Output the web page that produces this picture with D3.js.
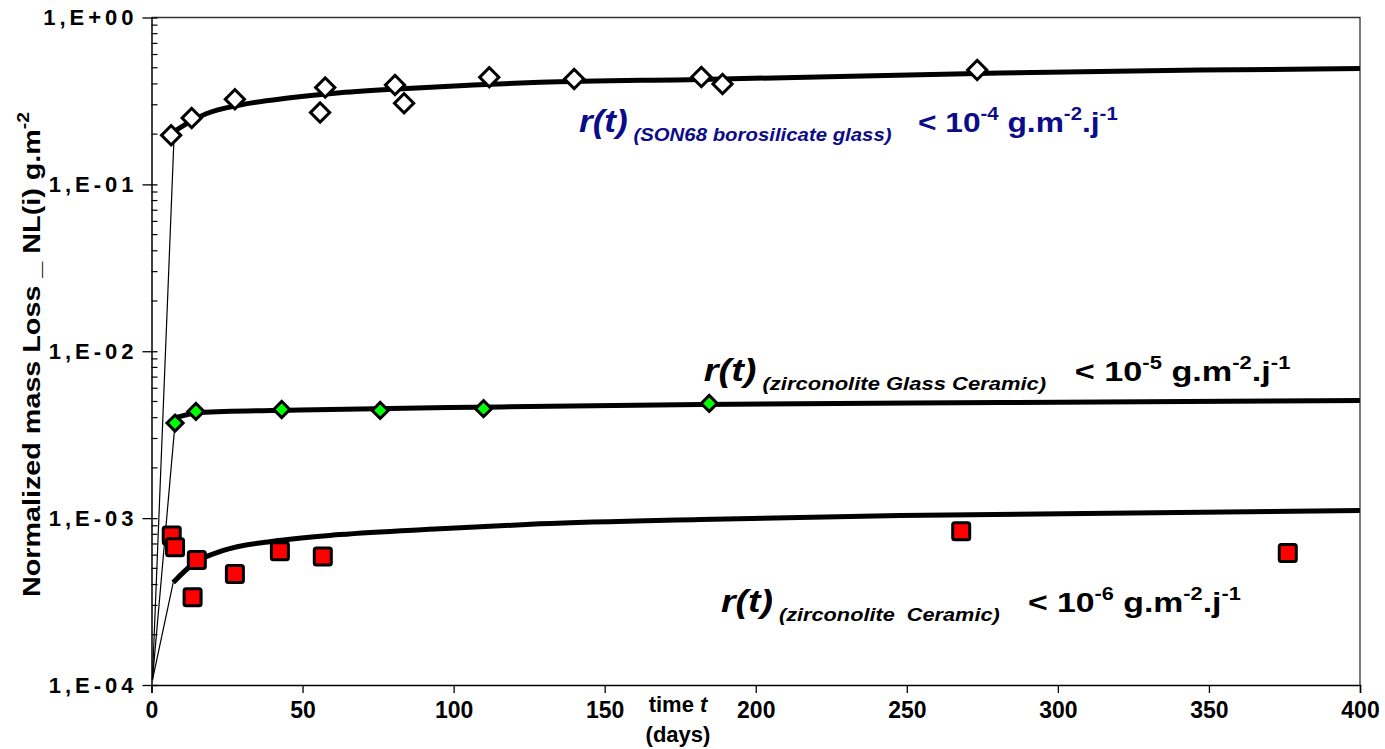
<!DOCTYPE html>
<html>
<head>
<meta charset="utf-8">
<script src="https://cdn.jsdelivr.net/npm/d3@7"></script>
<style>
  body { margin: 0; background: #fff; }
  svg { font-family: Arial, "Liberation Sans", sans-serif; }
</style>
</head>
<body>
<svg width="1385" height="749"></svg>
<script>
// ---- data ----
const yTicks = [1e-4, 1e-3, 1e-2, 1e-1, 1];
const yTickLabels = ["1,E-04", "1,E-03", "1,E-02", "1,E-01", "1,E+00"];
const xTicks = [0, 50, 100, 150, 200, 250, 300, 350, 400];

// SON68 borosilicate glass (open diamonds)
const son68Days = [6.5, 13.3, 27.6, 55.8, 57.5, 80.6, 83.6, 111.8, 139.9, 182, 189, 273.3];
const son68Loss = [0.197, 0.25, 0.324, 0.27, 0.381, 0.394, 0.306, 0.438, 0.428, 0.44, 0.399, 0.484];
const son68FitDays = [7.2, 12.7, 18.3, 29.3, 45.9, 62.4, 84.5, 106.6, 128.6, 181.6, 281, 347, 400];
const son68FitLoss = [0.206, 0.237, 0.266, 0.299, 0.330, 0.354, 0.376, 0.394, 0.409, 0.425, 0.465, 0.484, 0.494];

// zirconolite glass ceramic (green diamonds)
const gcDays = [7.8, 14.7, 43.1, 75.7, 109.9, 184.6];
const gcLoss = [3.71e-3, 4.36e-3, 4.48e-3, 4.42e-3, 4.53e-3, 4.87e-3];
const gcFitDays = [8, 16, 49.2, 115.4, 181.6, 281, 400];
const gcFitLoss = [4.0e-3, 4.30e-3, 4.45e-3, 4.64e-3, 4.80e-3, 4.93e-3, 5.07e-3];

// zirconolite ceramic (red squares)
const cerDays = [6.7, 7.8, 15.0, 13.6, 27.6, 42.5, 56.7, 268, 376.1];
const cerLoss = [7.87e-4, 6.69e-4, 5.62e-4, 3.36e-4, 4.63e-4, 6.33e-4, 5.89e-4, 8.34e-4, 6.19e-4];
const cerFitDays = [7.2, 13.8, 23.8, 40.3, 62.4, 95.5, 128.6, 181.6, 247.8, 400];
const cerFitLoss = [4.12e-4, 5.32e-4, 6.40e-4, 7.27e-4, 7.97e-4, 8.63e-4, 9.24e-4, 9.82e-4, 1.036e-3, 1.11e-3];

// thin start-up segments from near the origin
const startDay = 0.3, startLoss = 1.07e-4;

const svg = d3.select("svg");
const margin = { top: 17.5, right: 25, bottom: 64, left: 151.5 };
const width = 1385 - margin.left - margin.right;
const height = 749 - margin.top - margin.bottom;

const g = svg.append("g").attr("transform", `translate(${margin.left},${margin.top})`);

const x = d3.scaleLinear().domain([0, 400]).range([0, width]);
const y = d3.scaleLog().domain([1e-4, 1]).range([height, 0]);

// frame (top and right)
g.append("path")
  .attr("d", `M0,0H${width}V${height}`)
  .attr("fill", "none").attr("stroke", "#333").attr("stroke-width", 1.3);

// x axis
const gX = g.append("g")
  .attr("transform", `translate(0,${height})`)
  .call(d3.axisBottom(x).tickValues(xTicks).tickSize(8).tickFormat(d3.format("d")));
gX.select(".domain").attr("stroke-width", 1.5);
gX.selectAll(".tick line").attr("stroke-width", 1.3);
gX.selectAll(".tick text")
  .attr("font-size", 23).attr("font-weight", "bold").attr("dy", "0.95em").attr("fill", "#000");

// y axis: major ticks across the axis, minor ticks inside
const gY = g.append("g").call(d3.axisLeft(y).tickValues(yTicks).tickSize(0).tickFormat((d, i) => yTickLabels[i]));
gY.select(".domain").attr("stroke-width", 1.5);
gY.selectAll(".tick text")
  .attr("x", -14).attr("font-size", 22).attr("font-weight", "bold")
  .attr("letter-spacing", "4px").attr("fill", "#000");
gY.selectAll(".tick").append("line")
  .attr("x1", -9).attr("x2", 6).attr("stroke", "#000").attr("stroke-width", 1.3);

const minor = [];
for (let e = -4; e < 0; e++) for (let k = 2; k <= 9; k++) minor.push(k * Math.pow(10, e));
g.append("g").selectAll("line").data(minor).join("line")
  .attr("x1", 0).attr("x2", 6)
  .attr("y1", d => y(d)).attr("y2", d => y(d))
  .attr("stroke", "#000").attr("stroke-width", 1.2);

// lines
const zip = (a, b) => a.map((d, i) => [d, b[i]]);
const line = d3.line().x(d => x(d[0])).y(d => y(d[1]));
const smooth = d3.line().x(d => x(d[0])).y(d => y(d[1])).curve(d3.curveMonotoneX);

const thin = [
  [[startDay, startLoss], [7.5, 0.2]],
  [[startDay, startLoss], [gcDays[0], gcLoss[0]]],
  [[startDay, startLoss], [cerFitDays[0], cerFitLoss[0]]]
];
g.append("g").selectAll("path").data(thin).join("path")
  .attr("d", line).attr("fill", "none").attr("stroke", "#000").attr("stroke-width", 1.2);

const fits = [zip(son68FitDays, son68FitLoss), zip(gcFitDays, gcFitLoss), zip(cerFitDays, cerFitLoss)];
g.append("g").selectAll("path").data(fits).join("path")
  .attr("d", smooth).attr("fill", "none").attr("stroke", "#000").attr("stroke-width", 5);

// markers
const diamond = (size) => d3.symbol().type(d3.symbolSquare).size(size)();
g.append("g").selectAll("path").data(zip(son68Days, son68Loss)).join("path")
  .attr("d", diamond(185))
  .attr("transform", d => `translate(${x(d[0])},${y(d[1])}) rotate(45)`)
  .attr("fill", "#fff").attr("stroke", "#000").attr("stroke-width", 3);

g.append("g").selectAll("path").data(zip(gcDays, gcLoss)).join("path")
  .attr("d", diamond(130))
  .attr("transform", d => `translate(${x(d[0])},${y(d[1])}) rotate(45)`)
  .attr("fill", "#00ff00").attr("stroke", "#000").attr("stroke-width", 3);

g.append("g").selectAll("rect").data(zip(cerDays, cerLoss)).join("rect")
  .attr("x", d => x(d[0]) - 8.5).attr("y", d => y(d[1]) - 8.5)
  .attr("width", 17).attr("height", 17).attr("rx", 2)
  .attr("fill", "#ff0000").attr("stroke", "#000").attr("stroke-width", 3);

// annotations (glyphs are wide in the original, so each line is stretched to its width)
const notes = [
  { day: 141.5, loss: 0.205, sub: "(SON68 borosilicate glass)", exp: "-4", color: "#0c0c8a", len: 539 },
  { day: 182.8, loss: 6.6e-3, sub: "(zirconolite Glass Ceramic)", exp: "-5", color: "#000", len: 587 },
  { day: 188.5, loss: 2.75e-4, sub: "(zirconolite  Ceramic)", exp: "-6", color: "#000", len: 520 }
];
notes.forEach(n => {
  const t = g.append("text")
    .attr("fill", n.color).attr("font-weight", "bold")
    .attr("xml:space", "preserve");
  t.append("tspan").attr("font-size", 31).attr("font-style", "italic").text("r(t)");
  t.append("tspan").attr("font-size", 18).attr("font-style", "italic").attr("dy", 9).text(" " + n.sub);
  t.append("tspan").attr("font-size", 28).attr("dy", -9).text("   < 10");
  t.append("tspan").attr("font-size", 18).attr("dy", -12).text(n.exp);
  t.append("tspan").attr("font-size", 28).attr("dy", 12).text(" g.m");
  t.append("tspan").attr("font-size", 18).attr("dy", -12).text("-2");
  t.append("tspan").attr("font-size", 28).attr("dy", 12).text(".j");
  t.append("tspan").attr("font-size", 18).attr("dy", -12).text("-1");
  const w = t.node().getComputedTextLength();
  t.attr("transform", `translate(${x(n.day)},${y(n.loss)}) scale(${n.len / w},1)`);
});

// axis titles
const yt = svg.append("text").attr("font-weight", "bold").attr("font-size", 24);
yt.append("tspan").text("Normalized mass Loss _  NL(i) g.m");
yt.append("tspan").attr("font-size", 16).attr("dy", -11).text("-2");
const ytw = yt.node().getComputedTextLength();
yt.attr("transform", `translate(40,597) rotate(-90) scale(${485 / ytw},1)`);

const xt = svg.append("text").attr("font-weight", "bold").attr("font-size", 22).attr("text-anchor", "middle");
xt.append("tspan").attr("x", 678).attr("y", 712).text("time ");
xt.append("tspan").attr("font-style", "italic").text("t");
xt.append("tspan").attr("x", 678).attr("y", 742).text("(days)");
</script>
</body>
</html>
